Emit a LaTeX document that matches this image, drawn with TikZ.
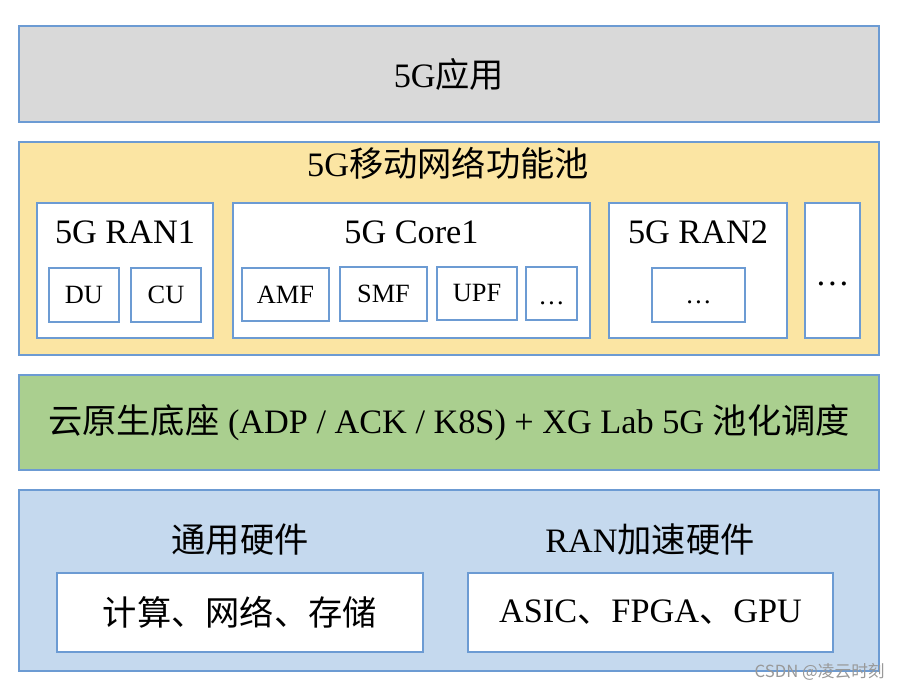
\documentclass[tikz,border=0pt]{standalone}
\usepackage{fontspec}
\setmainfont{Liberation Serif}
\newfontfamily\cjk{Noto Sans CJK SC}
\newfontfamily\wmfont{Noto Sans CJK SC}
\usepackage{tikz}
\usetikzlibrary{positioning,backgrounds}
\definecolor{boxblue}{RGB}{108,155,211}
\definecolor{appgray}{RGB}{217,217,217}
\definecolor{poolyellow}{RGB}{251,229,163}
\definecolor{cloudgreen}{RGB}{170,207,143}
\definecolor{hwblue}{RGB}{197,217,238}
\newcommand{\linethick}{1.1pt}
\newcommand{\bigtext}{\fontsize{19.5}{22}\selectfont}
\newcommand{\smalltext}{\fontsize{15}{18}\selectfont}
\newcommand{\lowdots}[1]{\raisebox{-#1}[0pt][0pt]{\dots}}

\begin{document}
\begin{tikzpicture}
\tikzset{
  layer/.style={draw=boxblue, line width=\linethick, minimum width=17.2cm, inner sep=0pt},
  unit/.style={draw=boxblue, line width=\linethick, fill=white, inner sep=0pt},
  label/.style={inner sep=0pt, font=\bigtext}
}
\useasboundingbox (0,0) rectangle (18,-13.84);
%layers
\node[layer, fill=appgray, minimum height=1.92cm, font=\bigtext] (app) at (8.98, -1.48) {5G{\cjk 应用}};
\node[layer, fill=poolyellow, minimum height=4.26cm] (pool) at (8.98, -4.97) {};
\node[label] (pooltitle) at (8.96, -3.26) {5G{\cjk 移动网络功能池}};
\node[layer, fill=cloudgreen, minimum height=1.9cm, font=\bigtext] (cloud) at (8.98, -8.45) {{\cjk 云原生底座} (ADP / ACK / K8S) + XG Lab 5G {\cjk 池化调度}};
\node[layer, fill=hwblue, minimum height=3.62cm] (hw) at (8.98, -11.61) {};
%ran1
\node[unit, minimum width=3.52cm, minimum height=2.7cm] (ran1) at (2.5, -5.41) {};
\node[label] (ran1title) at (2.5, -4.64) {5G RAN1};
\node[unit, minimum width=1.4cm, minimum height=1.08cm, font=\smalltext] (du) at (1.68, -5.9) {DU};
\node[unit, minimum width=1.4cm, minimum height=1.08cm, font=\smalltext] (cu) at (3.32, -5.9) {CU};
%core1
\node[unit, minimum width=7.14cm, minimum height=2.7cm] (core1) at (8.23, -5.41) {};
\node[label] (core1title) at (8.23, -4.64) {5G Core1};
\node[unit, minimum width=1.74cm, minimum height=1.06cm, font=\smalltext] (amf) at (5.71, -5.89) {AMF};
\node[unit, minimum width=1.74cm, minimum height=1.08cm, font=\smalltext] (smf) at (7.67, -5.88) {SMF};
\node[unit, minimum width=1.6cm, minimum height=1.06cm, font=\smalltext] (upf) at (9.54, -5.87) {UPF};
\node[unit, minimum width=1.02cm, minimum height=1.06cm, font=\smalltext] (coredots) at (11.03, -5.87) {\lowdots{6pt}};
%ran2
\node[unit, minimum width=3.56cm, minimum height=2.7cm] (ran2) at (13.96, -5.41) {};
\node[label] (ran2title) at (13.96, -4.64) {5G RAN2};
\node[unit, minimum width=1.86cm, minimum height=1.08cm, font=\smalltext] (ran2dots) at (13.97, -5.9) {\lowdots{5pt}};
%more
\node[unit, minimum width=1.1cm, minimum height=2.7cm, font=\bigtext] (moredots) at (16.65, -5.41) {\lowdots{8.5pt}};
%hardware
\node[label] (general) at (4.8, -10.8) {\cjk 通用硬件};
\node[label] (ranacc) at (13.0, -10.8) {RAN{\cjk 加速硬件}};
\node[unit, minimum width=7.32cm, minimum height=1.58cm, font=\bigtext] (genbox) at (4.8, -12.25) {\cjk 计算、网络、存储};
\node[unit, minimum width=7.3cm, minimum height=1.58cm, font=\bigtext] (accbox) at (13.01, -12.25) {ASIC{\cjk 、}FPGA{\cjk 、}GPU};
%watermark
\node[anchor=east, inner sep=0pt, text=black!40, font=\wmfont\fontsize{9.5}{11}\selectfont] (mark) at (17.7, -13.44) {CSDN @凌云时刻};
\end{tikzpicture}
\end{document}
